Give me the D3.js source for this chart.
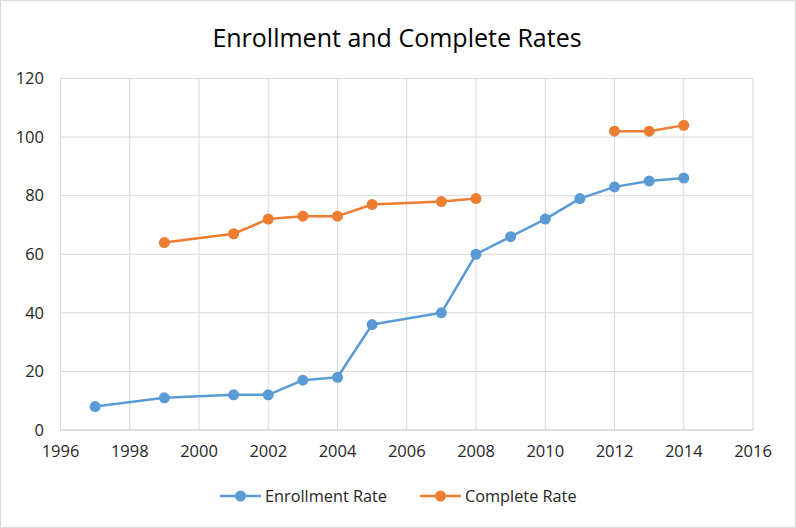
<!DOCTYPE html>
<html>
<head>
<meta charset="utf-8">
<script src="https://cdn.jsdelivr.net/npm/d3@7"></script>
<style>
  body { margin: 0; background: #fff; }
  text { font-family: "Open Sans", "Liberation Sans", sans-serif; fill: #262626; }
</style>
</head>
<body>
<svg id="chart" width="796" height="528"></svg>
<script>
// chart data
var years      = [1997, 1999, 2001, 2002, 2003, 2004, 2005, 2007, 2008, 2009, 2010, 2011, 2012, 2013, 2014];
var enrollment = [8, 11, 12, 12, 17, 18, 36, 40, 60, 66, 72, 79, 83, 85, 86];
var complete   = [null, 64, 67, 72, 73, 73, 77, 78, 79, null, null, null, 102, 102, 104];
var xTicks = [1996, 1998, 2000, 2002, 2004, 2006, 2008, 2010, 2012, 2014, 2016];
var yTicks = [0, 20, 40, 60, 80, 100, 120];
var seriesNames = ["Enrollment Rate", "Complete Rate"];
var seriesColors = ["#5b9bd5", "#ed7d31"];

var svg = d3.select("#chart");
var W = 796, H = 528;

// outer frame
svg.append("rect").attr("x", 0.5).attr("y", 0.5)
  .attr("width", W - 1).attr("height", H - 1)
  .style("fill", "#fff").style("stroke", "#d9d9d9");

var x = d3.scaleLinear().domain([1996, 2016]).range([60.5, 753]);
var y = d3.scaleLinear().domain([0, 120]).range([430, 78.5]);

// grid
var g = svg.append("g");
g.selectAll("line.vg").data(xTicks).enter().append("line")
  .attr("x1", function(d){ return x(d); }).attr("x2", function(d){ return x(d); })
  .attr("y1", y(0)).attr("y2", y(120))
  .style("stroke", "#d9d9d9").style("stroke-width", 1);
g.selectAll("line.hg").data(yTicks).enter().append("line")
  .attr("x1", x(1996)).attr("x2", x(2016))
  .attr("y1", function(d){ return y(d); }).attr("y2", function(d){ return y(d); })
  .style("stroke", function(d){ return d === 0 ? "#bfbfbf" : "#d9d9d9"; })
  .style("stroke-width", 1);

// tick labels
g.selectAll("text.yt").data(yTicks).enter().append("text")
  .attr("x", 44).attr("y", function(d){ return y(d); })
  .attr("dy", "0.35em").attr("text-anchor", "end")
  .style("font-size", "16.5px")
  .text(function(d){ return d; });
g.selectAll("text.xt").data(xTicks).enter().append("text")
  .attr("x", function(d){ return x(d); }).attr("y", 457)
  .attr("text-anchor", "middle")
  .style("font-size", "16.5px")
  .text(function(d){ return d; });

// title
svg.append("text").attr("x", 397).attr("y", 47)
  .attr("text-anchor", "middle")
  .style("font-size", "25px").style("fill", "#000")
  .text("Enrollment and Complete Rates");

// series
var allSeries = [enrollment, complete];
var seriesPts = allSeries.map(function(vals){
  return years.map(function(yr, j){ return {x: yr, y: vals[j]}; });
});

var line = d3.line()
  .defined(function(d){ return d.y !== null; })
  .x(function(d){ return x(d.x); })
  .y(function(d){ return y(d.y); });

seriesPts.forEach(function(pts, i){
  svg.append("path").datum(pts)
    .attr("d", line)
    .style("fill", "none")
    .style("stroke", seriesColors[i])
    .style("stroke-width", 2.5)
    .style("stroke-linejoin", "round");
  svg.selectAll("circle.s" + i)
    .data(pts.filter(function(d){ return d.y !== null; }))
    .enter().append("circle")
    .attr("cx", function(d){ return x(d.x); })
    .attr("cy", function(d){ return y(d.y); })
    .attr("r", 5.5)
    .style("fill", seriesColors[i]);
});

// legend
var legX = [220, 420];
seriesNames.forEach(function(name, i){
  var lg = svg.append("g").attr("transform", "translate(" + legX[i] + ",496)");
  lg.append("line").attr("x1", 0).attr("x2", 41).attr("y1", 0).attr("y2", 0)
    .style("stroke", seriesColors[i]).style("stroke-width", 2.5);
  lg.append("circle").attr("cx", 20.5).attr("cy", 0).attr("r", 5.5)
    .style("fill", seriesColors[i]);
  lg.append("text").attr("x", 45).attr("y", 0).attr("dy", "0.35em")
    .style("font-size", "16.3px")
    .text(name);
});
</script>
</body>
</html>
